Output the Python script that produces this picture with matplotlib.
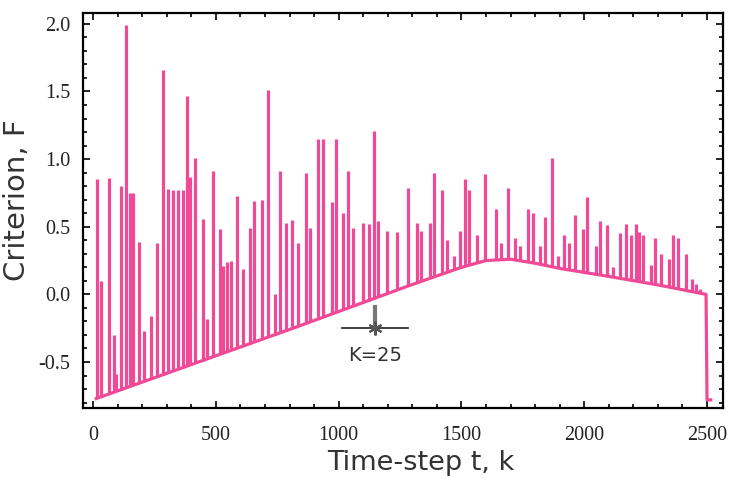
import matplotlib
matplotlib.use('Agg')
import matplotlib.pyplot as plt
import numpy as np
from matplotlib.ticker import MultipleLocator, FormatStrFormatter

# baseline of the criterion curve (time-step, value)
base_t = [13, 830, 1280, 1500, 1600, 1700, 1800, 1906, 2109, 2300, 2496, 2500, 2515]
base_f = [-0.77, -0.24, 0.06, 0.20, 0.25, 0.26, 0.23, 0.19, 0.13, 0.07, 0.0, -0.78, -0.78]

# spikes: time-step and peak value
spike_t = [16, 33, 65, 85, 94, 114, 134, 151, 163, 187, 208, 236, 261, 285, 305,
           326, 346, 366, 383, 395, 415, 446, 463, 489, 515, 529, 546, 562, 586,
           609, 639, 656, 688, 712, 741, 761, 786, 810, 835, 867, 884, 916, 937,
           972, 989, 1018, 1038, 1059, 1099, 1122, 1142, 1162, 1197, 1238, 1283,
           1318, 1337, 1372, 1388, 1419, 1440, 1470, 1494, 1513, 1529, 1562, 1594,
           1641, 1661, 1690, 1718, 1739, 1769, 1790, 1820, 1840, 1868, 1892, 1916,
           1938, 1963, 1994, 2013, 2046, 2066, 2092, 2116, 2145, 2170, 2192, 2209,
           2222, 2241, 2271, 2288, 2313, 2344, 2362, 2382, 2415, 2439, 2455, 2472]
spike_f = [0.85, 0.10, 0.86, -0.30, -0.59, 0.80, 1.99, 0.75, 0.75, 0.39, -0.27, -0.16,
           0.38, 1.66, 0.78, 0.77, 0.77, 0.77, 1.47, 0.87, 1.01, 0.56, -0.18, 0.91,
           0.48, 0.21, 0.24, 0.25, 0.73, 0.19, 0.49, 0.69, 0.70, 1.51, 0.00, 0.91,
           0.53, 0.55, 0.38, 0.90, 0.49, 1.15, 1.15, 0.68, 1.15, 0.60, 0.91, 0.49,
           0.53, 0.52, 1.21, 0.54, 0.47, 0.46, 0.79, 0.53, 0.47, 0.53, 0.90, 0.77,
           0.40, 0.28, 0.47, 0.85, 0.77, 0.44, 0.89, 0.63, 0.38, 0.79, 0.42, 0.36,
           0.63, 0.60, 0.36, 0.57, 1.01, 0.28, 0.44, 0.38, 0.59, 0.48, 0.72, 0.36,
           0.54, 0.51, 0.20, 0.45, 0.52, 0.44, 0.52, 0.46, 0.44, 0.22, 0.42, 0.30,
           0.26, 0.44, 0.42, 0.30, 0.11, 0.08, 0.04]

x_ticks = [0, 500, 1000, 1500, 2000, 2500]
y_ticks = [-0.5, 0.0, 0.5, 1.0, 1.5, 2.0]

pink = '#f04a96'

fig = plt.figure(figsize=(7.31, 4.78), dpi=100)
ax = fig.add_axes([83/731, 1-408/478, 640/731, 395/478])

bottoms = np.interp(spike_t, base_t[:-2], base_f[:-2])
ax.vlines(spike_t, bottoms, spike_f, color=pink, lw=2.3)
ax.plot(base_t, base_f, color=pink, lw=2.3)

# K = 25 marker
ax.plot([1014, 1283], [-0.25, -0.25], color='#333333', lw=1.3)
ax.plot([1148, 1148], [-0.09, -0.25], color='#777777', lw=3)
ax.plot([1148], [-0.25], marker=(6, 2, 0), ms=10, color='#555555', mew=1.5)
ax.text(1150, -0.45, 'K=25', ha='center', va='center', fontsize=14, color='#333333')

ax.set_xlim(-41, 2565)
ax.set_ylim(-0.84, 2.08)
ax.set_xticks(x_ticks)
ax.set_yticks(y_ticks)
ax.xaxis.set_minor_locator(MultipleLocator(100))
ax.yaxis.set_minor_locator(MultipleLocator(0.1))
ax.yaxis.set_major_formatter(FormatStrFormatter('%.1f'))
ax.tick_params(which='both', direction='in', top=True, right=True, width=1.2)
ax.tick_params(which='major', length=5, labelsize=14.5, labelcolor='#222222')
ax.tick_params(axis='x', which='major', pad=13)
ax.tick_params(axis='y', which='major', pad=9)
ax.tick_params(which='minor', length=3)
for lab in ax.get_xticklabels() + ax.get_yticklabels():
    lab.set_family('Liberation Serif')
for s in ax.spines.values():
    s.set_linewidth(1.6)

fig.text(17/731, 1-200/478, 'Criterion, F', rotation=90, ha='center', va='center', fontsize=21, color='#333333')
fig.text(421/731, 2/478, 'Time-step t, k', ha='center', va='bottom', fontsize=19.5, color='#333333')

fig.savefig('out.png', dpi=100)
